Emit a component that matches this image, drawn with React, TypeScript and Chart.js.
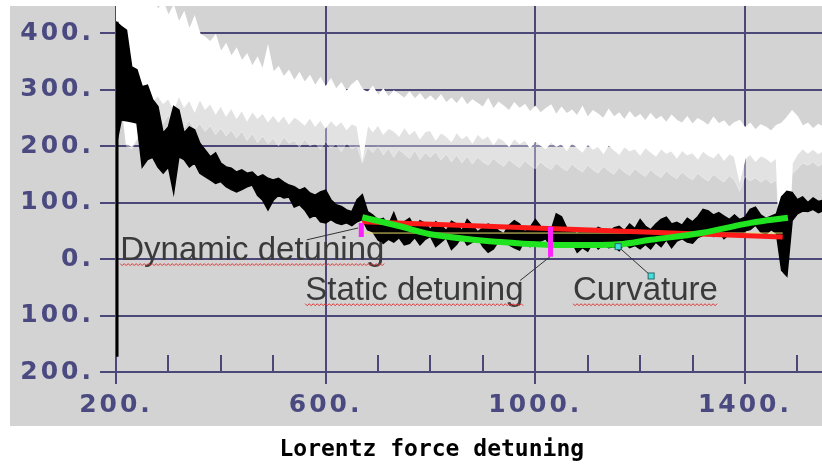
import React, { useEffect, useRef } from 'react';
import { Chart, registerables } from 'chart.js';

Chart.register(...registerables);

// ---------------- data ----------------
const X_MIN = 200;
const X_MAX = 1547;
const Y_MIN = -200;
const Y_MAX = 448;

const xMajorTicks = [200, 600, 1000, 1400];
const xMinorTicks = [300, 400, 500, 700, 800, 900, 1100, 1200, 1300, 1500];
const yTicks = [-200, -100, 0, 100, 200, 300, 400];

const sampleX = [
  200, 210, 220, 230, 240, 250, 260, 270, 280, 290,
  300, 310, 320, 330, 340, 350, 360, 370, 380, 390,
  400, 410, 420, 430, 440, 450, 460, 470, 480, 490,
  500, 510, 520, 530, 540, 550, 560, 570, 580, 590,
  600, 610, 620, 630, 640, 650, 660, 670, 680, 690,
  700, 710, 720, 730, 740, 750, 760, 770, 780, 790,
  800, 810, 820, 830, 840, 850, 860, 870, 880, 890,
  900, 910, 920, 930, 940, 950, 960, 970, 980, 990,
  1000, 1010, 1020, 1030, 1040, 1050, 1060, 1070, 1080, 1090,
  1100, 1110, 1120, 1130, 1140, 1150, 1160, 1170, 1180, 1190,
  1200, 1210, 1220, 1230, 1240, 1250, 1260, 1270, 1280, 1290,
  1300, 1310, 1320, 1330, 1340, 1350, 1360, 1370, 1380, 1390,
  1400, 1410, 1420, 1430, 1440, 1450, 1460, 1470, 1480, 1490,
  1500, 1510, 1520, 1530, 1540, 1550,
];

// black trace (measured detuning), upper / lower edge of the noisy band
const blackUpper = [
  420, 412, 405, 340, 335, 305, 308, 282, 270, 223,
  234, 270, 264, 223, 234, 229, 205, 193, 181, 188,
  170, 163, 161, 154, 158, 152, 154, 145, 149, 143,
  140, 143, 136, 131, 128, 122, 126, 117, 113, 119,
  122, 105, 96, 93, 87, 84, 105, 114, 84, 78,
  69, 72, 60, 82, 58, 66, 72, 55, 68, 63,
  52, 66, 60, 50, 67, 62, 50, 70, 60, 48,
  55, 62, 58, 50, 45, 60, 68, 62, 48, 56,
  70, 58, 52, 50, 80, 75, 55, 50, 45, 52,
  50, 48, 56, 52, 45, 55, 58, 50, 62, 54,
  70, 58, 52, 62, 70, 74, 62, 65, 60, 72,
  66, 75, 88, 85, 78, 82, 76, 70, 78, 70,
  74, 88, 92, 78, 72, 76, 80, 110, 120, 118,
  105, 110, 100, 108, 102, 104,
];
const blackLower = [
  200, 246, 245, 243, 241, 163, 176, 180, 163, 152,
  163, 117, 181, 176, 163, 170, 152, 146, 140, 134,
  137, 128, 123, 119, 123, 128, 131, 113, 104, 87,
  104, 113, 108, 110, 92, 96, 87, 73, 78, 66,
  64, 70, 64, 61, 64, 59, 66, 70, 52, 48,
  34, 28, 35, 30, 38, 25, 28, 38, 25, 35,
  40, 22, 30, 38, 17, 26, 40, 25, 30, 38,
  22, 12, 18, 32, 35, 25, 20, 16, 34, 22,
  25, 32, 36, 20, 30, 22, 25, 30, 12, 20,
  14, 30, 18, 26, 20, 22, 15, 28, 20, 24,
  18, 26, 18, 30, 22, 34, 20, 32, 36, 30,
  28, 38, 42, 50, 40, 50, 36, 44, 48, 40,
  50, 52, 60, 48, 44, 52, 46, -20, -30, 68,
  80, 85, 84, 88, 82, 86,
];

// white trace, upper / lower edge of the bright band, plus faint lower fringe
const whiteUpper = [
  470, 470, 470, 470, 465, 470, 460, 470, 440, 455,
  430, 448, 418, 436, 405, 428, 398, 392, 384, 396,
  366, 380, 358, 372, 350, 362, 340, 356, 334, 375,
  330, 340, 322, 333, 315, 329, 312, 324, 306, 320,
  304, 318, 300, 311, 296, 308, 316, 300, 294, 305,
  289, 300, 286, 297, 291, 284, 295, 283, 292, 280,
  288, 279, 290, 276, 284, 274, 286, 272, 281, 275,
  268, 283, 265, 277, 270, 262, 276, 266, 273, 260,
  270, 258, 266, 272, 255, 268, 257, 263, 253, 269,
  250, 262, 256, 248, 264, 251, 258, 246, 260, 249,
  255, 244, 257, 246, 252, 241, 254, 245, 240, 251,
  238, 248, 243, 236, 250, 239, 244, 233, 241, 245,
  232, 240, 228, 237, 233, 226, 236, 240, 250, 262,
  252, 235, 240, 230, 238, 233,
];
const whiteLower = [
  300, 290, 205, 200, 215, 285, 300, 280, 290, 276,
  285, 266, 290, 270, 282, 262, 284, 266, 276, 258,
  272, 254, 268, 250, 264, 246, 262, 250, 259, 244,
  256, 243, 255, 240, 252, 246, 238, 251, 236, 247,
  233, 246, 236, 244, 230, 240, 236, 180, 238, 226,
  238, 222, 232, 227, 218, 234, 221, 229, 214, 226,
  228, 212, 224, 218, 209, 225, 214, 220, 206, 222,
  213, 219, 204, 216, 210, 200, 214, 205, 211, 198,
  210, 202, 196, 208, 200, 205, 193, 207, 198, 190,
  204, 195, 200, 188, 203, 194, 186, 200, 192, 196,
  185, 198, 190, 183, 196, 188, 192, 180, 193, 185,
  189, 178, 192, 184, 180, 190, 176, 187, 182, 140,
  178, 186, 174, 183, 179, 172, 180, -20, -15, 170,
  186, 196, 188, 195, 187, 193,
];
const whiteFringe = [
  290, 280, 200, 195, 210, 260, 270, 250, 262, 240,
  255, 238, 250, 232, 246, 228, 240, 226, 236, 220,
  232, 218, 228, 214, 226, 210, 222, 206, 218, 204,
  214, 200, 216, 205, 210, 198, 212, 200, 206, 194,
  208, 196, 204, 190, 206, 195, 200, 170, 198, 188,
  200, 184, 196, 180, 194, 186, 178, 192, 176, 188,
  180, 190, 175, 186, 172, 184, 170, 182, 168, 180,
  172, 166, 178, 170, 164, 176, 168, 162, 174, 166,
  160, 172, 164, 158, 170, 162, 156, 168, 160, 154,
  166, 158, 152, 164, 156, 150, 162, 154, 148, 160,
  152, 146, 158, 150, 144, 156, 148, 142, 154, 146,
  140, 152, 144, 138, 150, 142, 136, 148, 140, 120,
  146, 138, 144, 136, 142, 134, 140, -25, -20, 150,
  160, 170, 166, 172, 164, 170,
];

// initial spike of the black trace
const spikeX = [201, 201];
const spikeY = [-173, 420];

// fits
const fitX = [670, 1472];
const linearFitY = [66, 39];
const staticLevelY = [46, 46];
const curveX = [670, 742, 806, 934, 1029, 1092, 1159, 1220, 1316, 1411, 1482];
const curveY = [74, 58, 43, 30, 25, 25, 26, 34, 46, 64, 73];

// magenta markers
const dynamicMarkerX = [668, 668];
const dynamicMarkerY = [64, 39];
const staticMarkerX = [1029, 1029];
const staticMarkerY = [57, 4];

// annotation texts (anchor in data units: left, baseline)
const noteTexts = ['Dynamic detuning', 'Static detuning', 'Curvature'];
const noteX = [208, 561, 1072];
const noteY = [-1, -72, -72];
// leader lines (data units)
const leaderFromX = [564, 971, 1158];
const leaderFromY = [34, -38, 22];
const leaderToX = [662, 1028, 1221];
const leaderToY = [55, 4, -30];
const leaderHandles = [false, false, true];

const TITLE = 'Lorentz force detuning';

// ---------------- styles ----------------
const GRID = '#4b4878';
const TICK_TEXT = '#4b4a80';
const PLOT_BG = '#d3d3d3';

const pts = (xs: number[], ys: number[]) => xs.map((x, i) => ({ x, y: ys[i] }));

const spacingPlugin = {
  id: 'spacing',
  beforeDraw(chart: any) {
    chart.ctx.letterSpacing = '0px';
  },
  afterDatasetsDraw(chart: any) {
    chart.ctx.letterSpacing = '3px';
  },
  afterDraw(chart: any) {
    chart.ctx.letterSpacing = '0px';
  },
};

const backgroundPlugin = {
  id: 'plotBackground',
  beforeDraw(chart: any) {
    const { ctx, chartArea } = chart;
    ctx.save();
    ctx.fillStyle = PLOT_BG;
    ctx.fillRect(10, chartArea.top, chart.width - 10, chartArea.bottom + 54 - chartArea.top);
    ctx.restore();
  },
  beforeDatasetsDraw(chart: any) {
    const { ctx, chartArea, scales } = chart;
    const x = scales.x;
    ctx.save();
    ctx.strokeStyle = GRID;
    ctx.lineWidth = 2;
    xMinorTicks.forEach((v) => {
      const px = Math.round(x.getPixelForValue(v));
      ctx.beginPath();
      ctx.moveTo(px, chartArea.bottom);
      ctx.lineTo(px, chartArea.bottom - 17);
      ctx.stroke();
    });
    ctx.restore();
  },
};

const notesPlugin = {
  id: 'notes',
  afterDraw(chart: any) {
    const { ctx, scales } = chart;
    const x = scales.x;
    const y = scales.y;
    ctx.save();
    ctx.letterSpacing = '0px';
    ctx.strokeStyle = '#333333';
    ctx.lineWidth = 1;
    leaderFromX.forEach((_, i) => {
      const x1 = x.getPixelForValue(leaderFromX[i]);
      const y1 = y.getPixelForValue(leaderFromY[i]);
      const x2 = x.getPixelForValue(leaderToX[i]);
      const y2 = y.getPixelForValue(leaderToY[i]);
      ctx.strokeStyle = '#333333';
      ctx.beginPath();
      ctx.moveTo(x1, y1);
      ctx.lineTo(x2, y2);
      ctx.stroke();
      if (leaderHandles[i]) {
        [[x1, y1], [x2, y2]].forEach(([hx, hy]) => {
          ctx.fillStyle = '#3fe0e0';
          ctx.fillRect(hx - 3, hy - 3, 6, 6);
          ctx.strokeStyle = '#2a6a6a';
          ctx.strokeRect(hx - 3, hy - 3, 6, 6);
        });
      }
    });
    ctx.font = '33px "Liberation Sans", Arial, sans-serif';
    ctx.textAlign = 'left';
    ctx.textBaseline = 'alphabetic';
    noteTexts.forEach((t, i) => {
      const px = x.getPixelForValue(noteX[i]);
      const py = y.getPixelForValue(noteY[i]);
      ctx.fillStyle = '#3a3a3a';
      ctx.fillText(t, px, py);
      const w = ctx.measureText(t).width;
      ctx.strokeStyle = '#e03434';
      ctx.lineWidth = 1;
      ctx.beginPath();
      let up = true;
      for (let sx = px; sx <= px + w; sx += 2) {
        const sy = py + 5 + (up ? -1 : 1);
        if (sx === px) ctx.moveTo(sx, sy);
        else ctx.lineTo(sx, sy);
        up = !up;
      }
      ctx.stroke();
    });
    ctx.restore();
  },
};

export default function App() {
  const ref = useRef<HTMLCanvasElement>(null);

  useEffect(() => {
    const base = { pointRadius: 0, tension: 0, fill: false as any };
    const tickFont = { family: '"DejaVu Sans", sans-serif', size: 25, weight: 'bold' };
    const chart = new Chart(ref.current as HTMLCanvasElement, {
      type: 'line',
      data: {
        datasets: [
          { ...base, label: 'white upper', data: pts(sampleX, whiteUpper), borderColor: '#ffffff', borderWidth: 1.5, order: 11 },
          { ...base, label: 'white lower', data: pts(sampleX, whiteLower), borderColor: '#ffffff', borderWidth: 1.5, backgroundColor: '#ffffff', fill: 0, order: 10 },
          { ...base, label: 'white fringe', data: pts(sampleX, whiteFringe), borderColor: 'rgba(255,255,255,0.35)', borderWidth: 1, backgroundColor: 'rgba(255,255,255,0.35)', fill: 1, order: 12 },
          { ...base, label: 'black upper', data: pts(sampleX, blackUpper), borderColor: '#000000', borderWidth: 1.5, order: 8 },
          { ...base, label: 'black lower', data: pts(sampleX, blackLower), borderColor: '#000000', borderWidth: 1.5, backgroundColor: '#000000', fill: 3, order: 7 },
          { ...base, label: 'spike', data: pts(spikeX, spikeY), borderColor: '#000000', borderWidth: 4, order: 6 },
          { ...base, label: 'static level', data: pts(fitX, staticLevelY), borderColor: '#e8df6a', borderWidth: 1, order: 5 },
          { ...base, label: 'linear fit', data: pts(fitX, linearFitY), borderColor: '#ff1a1a', borderWidth: 5, order: 4 },
          { ...base, label: 'curvature fit', data: pts(curveX, curveY), borderColor: '#1fe41f', borderWidth: 6, tension: 0.4, order: 3 },
          { ...base, label: 'dynamic marker', data: pts(dynamicMarkerX, dynamicMarkerY), borderColor: '#ff20ff', borderWidth: 5, order: 2 },
          { ...base, label: 'static marker', data: pts(staticMarkerX, staticMarkerY), borderColor: '#ff20ff', borderWidth: 5, order: 1 },
        ],
      },
      options: {
        animation: false,
        responsive: true,
        maintainAspectRatio: false,
        layout: { padding: { top: 6, left: 0, right: 0, bottom: 0 } },
        plugins: {
          legend: { display: false },
          tooltip: { enabled: false },
          title: {
            display: true,
            position: 'bottom',
            text: '   ' + TITLE,
            color: '#000000',
            font: { family: '"DejaVu Sans Mono", monospace', size: 23, weight: 'bold' },
            padding: { top: 10, bottom: 1 },
          },
        },
        scales: {
          x: {
            type: 'linear',
            min: X_MIN,
            max: X_MAX,
            afterBuildTicks: (axis: any) => {
              axis.ticks = xMajorTicks.map((v) => ({ value: v }));
            },
            afterFit: (axis: any) => {
              axis.height = 54.4;
              axis.paddingLeft = 0;
              axis.paddingRight = 0;
            },
            grid: { color: GRID, lineWidth: 2, tickLength: 12, tickColor: GRID },
            border: { display: false },
            ticks: {
              z: 1,
              autoSkip: false,
              maxRotation: 0,
              padding: 6,
              color: TICK_TEXT,
              font: tickFont,
              callback: (v: any) => `${Math.abs(Number(v))}.`,
            },
          },
          y: {
            type: 'linear',
            min: Y_MIN,
            max: Y_MAX,
            afterBuildTicks: (axis: any) => {
              axis.ticks = yTicks.map((v) => ({ value: v }));
            },
            afterFit: (axis: any) => {
              axis.width = 116;
              axis.paddingTop = 0;
              axis.paddingBottom = 0;
            },
            grid: { color: GRID, lineWidth: 2, tickLength: 16, tickColor: GRID },
            border: { display: false },
            ticks: {
              z: 1,
              autoSkip: false,
              padding: 6,
              color: TICK_TEXT,
              font: tickFont,
              callback: (v: any) => `${Math.abs(Number(v))}.`,
            },
          },
        },
      },
      plugins: [spacingPlugin, backgroundPlugin, notesPlugin],
    } as any);
    return () => chart.destroy();
  }, []);

  return (
    <div style={{ position: 'absolute', left: 0, top: 0, width: 822, height: 465 }}>
      <canvas ref={ref} />
    </div>
  );
}
